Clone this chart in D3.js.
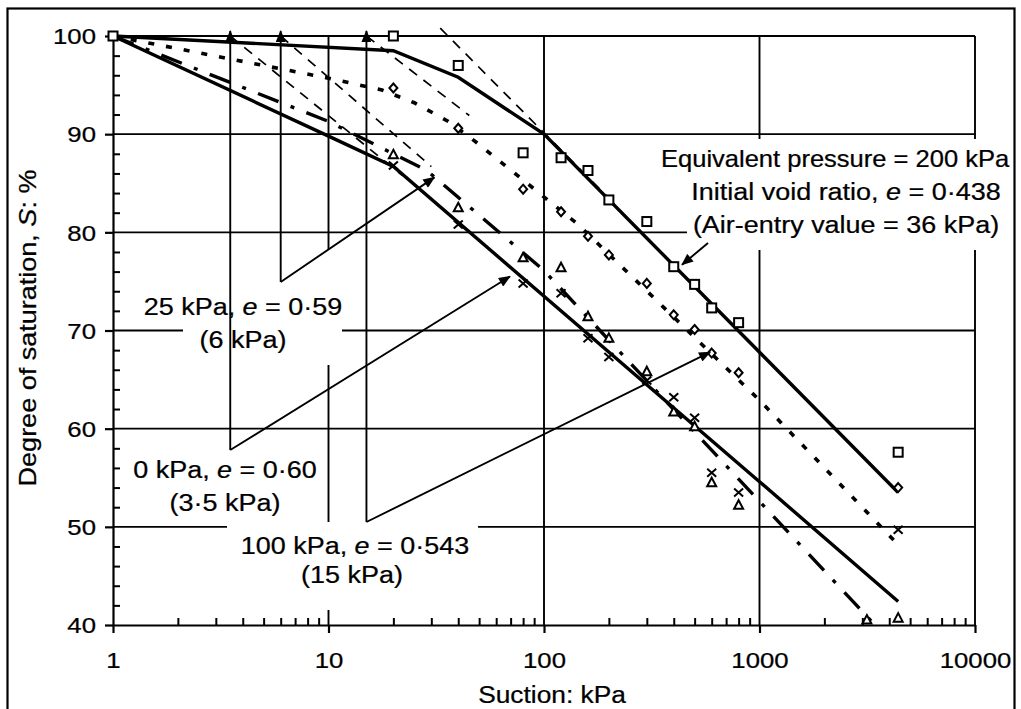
<!DOCTYPE html>
<html>
<head>
<meta charset="utf-8">
<script src="https://cdn.jsdelivr.net/npm/d3@7"></script>
<style>
  html, body { margin: 0; padding: 0; background: #fff; }
  svg { display: block; }
  text { font-family: "Liberation Sans", Arial, Helvetica, sans-serif; fill: #000; stroke: #000; stroke-width: 0.25px; }
</style>
</head>
<body>
<svg id="chart" width="1021" height="709"></svg>
<script>
// Soil-water characteristic curves: degree of saturation against suction
// for specimens at four equivalent pressures.

const suctionTicks = [1, 10, 100, 1000, 10000];
const saturationTicks = [40, 50, 60, 70, 80, 90, 100];

// Measured points [suction kPa, degree of saturation %]
const pts200 = [[1, 100], [20, 100], [40, 97], [80, 88.1], [120, 87.6], [160, 86.3], [200, 83.3],
                [300, 81.1], [400, 76.5], [500, 74.7], [600, 72.3], [800, 70.8], [4400, 57.6]];
const pts100 = [[20, 94.7], [40, 90.6], [80, 84.4], [120, 82.1], [160, 79.6], [200, 77.7],
                [300, 74.8], [400, 71.6], [500, 70.1], [600, 67.7], [800, 65.7], [4400, 54.0]];
const pts25  = [[20, 87.9], [40, 82.5], [80, 77.4], [120, 76.4], [160, 71.4], [200, 69.2],
                [300, 65.8], [400, 61.7], [500, 60.2], [600, 54.5], [800, 52.2], [3150, 40.5], [4400, 40.7]];
const pts0   = [[20, 86.8], [40, 80.8], [80, 74.8], [120, 73.8], [160, 69.2], [200, 67.3],
                [300, 64.9], [400, 63.2], [500, 61.1], [600, 55.5], [800, 53.5], [4400, 49.7]];

// Fitted curves
const fit200 = [[1, 100], [20, 98.5], [40, 95.8], [100, 90], [4400, 53.5]];
const fit100 = [[1, 100], [10, 95.7], [17.7, 94.5], [25, 93.2], [36, 91.3], [49, 89.1],
                [144, 80.8], [1000, 62.9], [4300, 48.4]];
const fit25  = [[1, 100], [10, 91.3], [28.6, 86.3], [100, 76.1], [3400, 40.1]];
const fit0   = [[1, 100], [10, 89.8], [20, 86.7], [1000, 54.6], [4400, 42.4]];

// Tangents to the steep part of each curve, meeting S = 100 % at the air-entry value
const tangent0   = [[3.5, 100], [22, 85.8]];
const tangent25  = [[6, 100], [30, 86.7]];
const tangent100 = [[15, 100], [45, 91.9]];
const tangent200 = [[33, 100.8], [210, 83]];

// Air-entry values (kPa) and the points on each curve the labels point to
const airEntry = [3.5, 6, 15, 36];
const arrowTip0   = [69.5, 75.5];
const arrowTip25  = [31, 85.6];
const arrowTip100 = [590, 67.8];
const arrowTip200 = [437, 76.7];

const svg = d3.select("#chart");
const x = d3.scaleLog().domain([1, 10000]).range([113, 975]);
const y = d3.scaleLinear().domain([40, 100]).range([625, 36]);
const X0 = x.range()[0], X1 = x.range()[1], Y0 = y.range()[0], Y1 = y.range()[1];

// arrowhead
const defs = svg.append("defs");
defs.append("marker").attr("id", "head")
  .attr("viewBox", "0 0 12 10").attr("refX", 11).attr("refY", 5)
  .attr("markerWidth", 13).attr("markerHeight", 10)
  .attr("markerUnits", "userSpaceOnUse").attr("orient", "auto")
  .append("path").attr("d", "M0,0 L12,5 L0,10 Z").attr("fill", "#000");

// grid
const grid = svg.append("g").attr("stroke", "#000").attr("stroke-width", 1.9);
grid.selectAll("line.h").data(saturationTicks.filter(d => d > 40)).join("line")
  .attr("x1", X0).attr("x2", X1).attr("y1", d => y(d)).attr("y2", d => y(d));
grid.selectAll("line.v").data(suctionTicks.filter(d => d > 1)).join("line")
  .attr("y1", Y1).attr("y2", Y0).attr("x1", d => x(d)).attr("x2", d => x(d));

// axes
const tickFont = 23, tickScale = 1.12;
const yAxis = svg.append("g").attr("transform", `translate(${X0},0)`)
  .call(d3.axisLeft(y).tickValues(saturationTicks).tickSize(8).tickSizeOuter(0).tickFormat(d3.format("d")));
yAxis.selectAll("text")
  .attr("x", -17 / tickScale).attr("dy", "0.34em")
  .attr("transform", `scale(${tickScale},1)`)
  .style("font-size", tickFont + "px");
const xAxis = svg.append("g").attr("transform", `translate(0,${Y0})`)
  .call(d3.axisBottom(x).tickValues(suctionTicks).tickSize(8).tickSizeOuter(0).tickFormat(d3.format("d")));
xAxis.selectAll("text")
  .attr("y", 43).attr("dy", 0)
  .attr("transform", `scale(${tickScale},1)`)
  .style("font-size", tickFont + "px");
[yAxis, xAxis].forEach(g => {
  g.selectAll("path, line").attr("stroke", "#000").attr("stroke-width", 2.2);
  g.attr("font-family", null).attr("font-size", null);
});

// minor ticks
const minorX = x.ticks().filter(d => Math.abs(Math.log10(d) - Math.round(Math.log10(d))) > 1e-9);
const minorY = d3.range(42, 100, 2).filter(d => d % 10 !== 0);
svg.append("g").attr("transform", `translate(0,${Y0})`)
  .call(d3.axisTop(x).tickValues(minorX).tickSize(7).tickFormat(""))
  .call(g => g.select(".domain").remove())
  .selectAll("line").attr("stroke", "#000").attr("stroke-width", 2);
svg.append("g").attr("transform", `translate(${X0},0)`)
  .call(d3.axisRight(y).tickValues(minorY).tickSize(7).tickFormat(""))
  .call(g => g.select(".domain").remove())
  .selectAll("line").attr("stroke", "#000").attr("stroke-width", 2);

// white panels behind the annotations
const panels = [
  { x: 687, y: 139, w: 327, h: 111 },
  { x: 183, y: 287, w: 159, h: 78 },
  { x: 300, y: 249, w: 42, h: 40 },
  { x: 127, y: 448, w: 199, h: 72 },
  { x: 227, y: 522, w: 251, h: 88 }
];
svg.append("g").selectAll("rect").data(panels).join("rect")
  .attr("x", d => d.x).attr("y", d => d.y).attr("width", d => d.w).attr("height", d => d.h)
  .attr("fill", "#fff");

const line = d3.line().x(d => x(d[0])).y(d => y(d[1]));

// tangent construction lines
svg.append("g").selectAll("path").data([tangent0, tangent25, tangent100, tangent200]).join("path")
  .attr("d", line).attr("fill", "none").attr("stroke", "#000")
  .attr("stroke-width", 1.7).attr("stroke-dasharray", "10,8");

// fitted curves
const curves = [
  { data: fit200, dash: null, w: 3.4 },
  { data: fit0, dash: null, w: 3.4 },
  { data: fit100, dash: "6,12", w: 3.6 },
  { data: fit25, dash: "22,13,4,13", w: 3.4 }
];
svg.append("g").selectAll("path").data(curves).join("path")
  .attr("d", d => line(d.data)).attr("fill", "none").attr("stroke", "#000")
  .attr("stroke-width", d => d.w).attr("stroke-dasharray", d => d.dash);

// data markers
const mk = svg.append("g").attr("fill", "#fff").attr("stroke", "#000").attr("stroke-width", 2);
mk.selectAll("rect.sq").data(pts200).join("rect")
  .attr("x", d => x(d[0]) - 4.5).attr("y", d => y(d[1]) - 4.5).attr("width", 9).attr("height", 9);
mk.selectAll("path.dm").data(pts100).join("path")
  .attr("d", d => { const cx = x(d[0]), cy = y(d[1]);
    return `M${cx},${cy - 4.5}L${cx + 4},${cy}L${cx},${cy + 4.5}L${cx - 4},${cy}Z`; });
mk.selectAll("path.tr").data(pts25).join("path")
  .attr("d", d => { const cx = x(d[0]), cy = y(d[1]);
    return `M${cx},${cy - 5}L${cx + 4.5},${cy + 3.5}L${cx - 4.5},${cy + 3.5}Z`; });
mk.selectAll("path.cr").data(pts0).join("path").attr("fill", "none")
  .attr("d", d => { const cx = x(d[0]), cy = y(d[1]);
    return `M${cx - 4.5},${cy - 4}L${cx + 4.5},${cy + 4}M${cx + 4.5},${cy - 4}L${cx - 4.5},${cy + 4}`; });

// annotation leaders
const ann = svg.append("g").attr("stroke", "#000").attr("stroke-width", 1.9).attr("fill", "none");
const tails = [
  { aev: airEntry[0], yTail: 450, tip: arrowTip0 },
  { aev: airEntry[1], yTail: 282, tip: arrowTip25 },
  { aev: airEntry[2], yTail: 522, tip: arrowTip100 }
];
tails.forEach(t => {
  const tx = x(t.aev);
  ann.append("line").attr("x1", tx).attr("y1", t.yTail).attr("x2", tx).attr("y2", y(100.5))
    .attr("marker-end", "url(#head)");
  ann.append("line").attr("x1", tx).attr("y1", t.yTail)
    .attr("x2", x(t.tip[0])).attr("y2", y(t.tip[1])).attr("marker-end", "url(#head)");
});
ann.append("line").attr("x1", 708).attr("y1", 243)
  .attr("x2", x(arrowTip200[0])).attr("y2", y(arrowTip200[1])).attr("marker-end", "url(#head)");

// text
const labFont = 24.5, labScale = 1.1;
function label(g, cx, yb, parts, size, sx, anchor) {
  const t = g.append("text")
    .attr("transform", `translate(${cx},${yb}) scale(${sx},1)`)
    .attr("text-anchor", anchor || "middle").style("font-size", size + "px");
  parts.forEach(p => t.append("tspan").text(p[0]).style("font-style", p[1] ? "italic" : null));
  return t;
}
const tg = svg.append("g");
label(tg, 661, 167, [["Equivalent pressure = 200 kPa"]], 23.2, labScale, "start");
label(tg, 846, 200, [["Initial void ratio, "], ["e", true], [" = 0·438"]], labFont, labScale);
label(tg, 846, 233, [["(Air-entry value = 36 kPa)"]], labFont, labScale);
label(tg, 243, 315, [["25 kPa, "], ["e", true], [" = 0·59"]], labFont, labScale);
label(tg, 243, 348, [["(6 kPa)"]], labFont, labScale);
label(tg, 225, 478, [["0 kPa, "], ["e", true], [" = 0·60"]], labFont, labScale);
label(tg, 225, 511, [["(3·5 kPa)"]], labFont, labScale);
label(tg, 355, 554, [["100 kPa, "], ["e", true], [" = 0·543"]], labFont, labScale);
label(tg, 352, 583, [["(15 kPa)"]], labFont, labScale);

// axis titles
label(tg, 552, 703, [["Suction: kPa"]], 23.5, 1.12);
tg.append("text")
  .attr("transform", "translate(36,328) rotate(-90) scale(1.15,1)")
  .attr("text-anchor", "middle").style("font-size", "23.5px")
  .call(t => {
    t.append("tspan").text("Degree of saturation, ");
    t.append("tspan").text("S").style("font-style", "italic");
    t.append("tspan").text(": %");
  });

// outer frame
svg.append("rect").attr("x", 7.5).attr("y", 8.5).attr("width", 1007).attr("height", 712)
  .attr("fill", "none").attr("stroke", "#000").attr("stroke-width", 2.2);
</script>
</body>
</html>
